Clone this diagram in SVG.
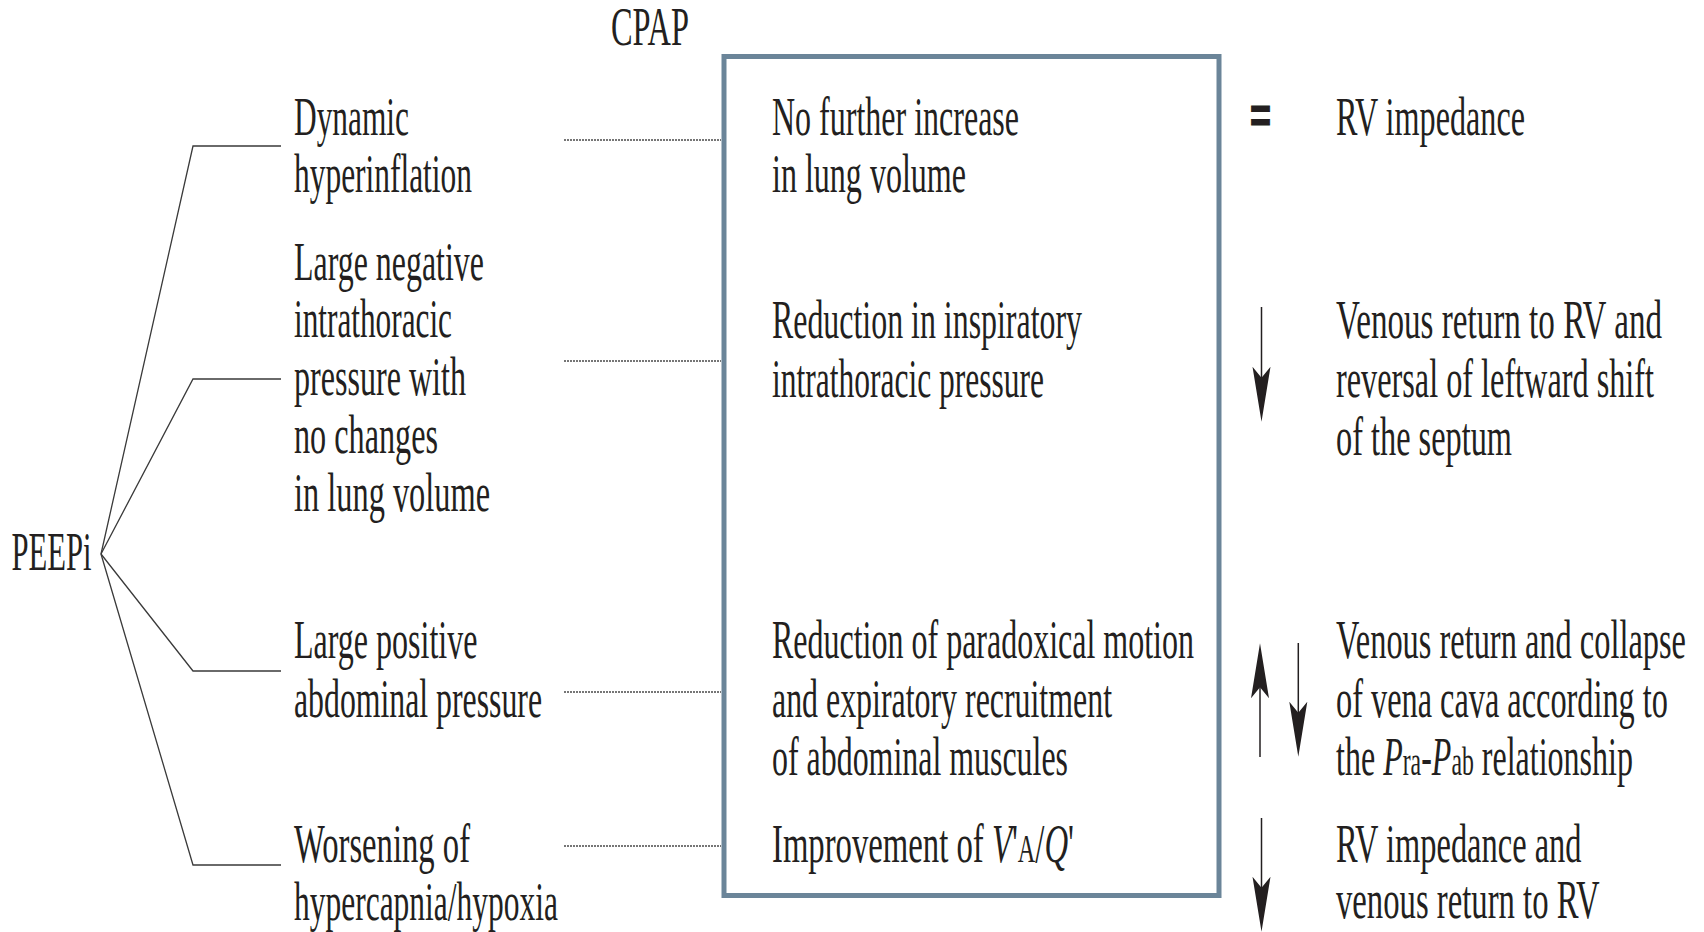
<svg xmlns="http://www.w3.org/2000/svg" width="1704" height="932" viewBox="0 0 1704 932">
<style>
  .t { font-family: "Liberation Serif", "Times New Roman", serif; font-size: 54px; fill: #231f20; }
  .it { font-style: italic; }
  .sm { font-size: 40px; }
  .eq { font-family: "Liberation Sans", Arial, sans-serif; font-size: 50px; font-weight: bold; fill: #231f20; stroke: #231f20; stroke-width: 1.2px; }
  .tree { fill: none; stroke: #3a3a3a; stroke-width: 1.3; }
  .dash { fill: none; stroke: #4a4a4a; stroke-width: 1.4; stroke-dasharray: 2 1; }
  .box { fill: none; stroke: #6b8599; stroke-width: 5; }
  .arr { fill: none; stroke: #231f20; stroke-width: 1.5; }
</style>
<defs>
  <marker id="head" markerUnits="userSpaceOnUse" viewBox="-76 -10 80 20" markerWidth="80" markerHeight="20" refX="-20" refY="0" orient="auto">
    <path d="M0,0 L-55,-9 L-44,0 L-55,9 Z" fill="#231f20"/>
  </marker>
</defs>
<rect width="1704" height="932" fill="#ffffff"/>

<g id="connectors">
  <polyline class="tree" points="101,554 193,146 281,146"/>
  <polyline class="tree" points="101,554 193,379 281,379"/>
  <polyline class="tree" points="101,554 193,671 281,671"/>
  <polyline class="tree" points="101,554 193,865 281,865"/>
  <line class="dash" x1="564" y1="140" x2="721" y2="140"/>
  <line class="dash" x1="564" y1="361" x2="721" y2="361"/>
  <line class="dash" x1="564" y1="692" x2="721" y2="692"/>
  <line class="dash" x1="564" y1="846" x2="721" y2="846"/>
</g>

<g id="cpap-label">
  <text class="t" x="611" y="45" textLength="78" lengthAdjust="spacingAndGlyphs">CPAP</text>
</g>

<g id="peepi">
  <text class="t" x="11.5" y="570" textLength="80" lengthAdjust="spacingAndGlyphs">PEEPi</text>
</g>

<g id="cause-1">
  <text class="t" x="294" y="135" textLength="115" lengthAdjust="spacingAndGlyphs">Dynamic</text>
  <text class="t" x="294" y="192" textLength="178" lengthAdjust="spacingAndGlyphs">hyperinflation</text>
</g>
<g id="cause-2">
  <text class="t" x="294" y="280" textLength="190" lengthAdjust="spacingAndGlyphs">Large negative</text>
  <text class="t" x="294" y="337" textLength="158" lengthAdjust="spacingAndGlyphs">intrathoracic</text>
  <text class="t" x="294" y="395" textLength="172" lengthAdjust="spacingAndGlyphs">pressure with</text>
  <text class="t" x="294" y="453" textLength="144" lengthAdjust="spacingAndGlyphs">no changes</text>
  <text class="t" x="294" y="511" textLength="196" lengthAdjust="spacingAndGlyphs">in lung volume</text>
</g>
<g id="cause-3">
  <text class="t" x="294" y="658" textLength="183.5" lengthAdjust="spacingAndGlyphs">Large positive</text>
  <text class="t" x="294" y="717" textLength="248" lengthAdjust="spacingAndGlyphs">abdominal pressure</text>
</g>
<g id="cause-4">
  <text class="t" x="294" y="862" textLength="176" lengthAdjust="spacingAndGlyphs">Worsening of</text>
  <text class="t" x="294" y="920" textLength="264" lengthAdjust="spacingAndGlyphs">hypercapnia/hypoxia</text>
</g>

<g id="cpap-box">
  <rect class="box" x="724" y="56.5" width="495" height="839"/>
</g>

<g id="effect-1">
  <text class="t" x="772" y="135" textLength="247" lengthAdjust="spacingAndGlyphs">No further increase</text>
  <text class="t" x="772" y="192" textLength="194" lengthAdjust="spacingAndGlyphs">in lung volume</text>
</g>
<g id="effect-2">
  <text class="t" x="772" y="338" textLength="310" lengthAdjust="spacingAndGlyphs">Reduction in inspiratory</text>
  <text class="t" x="772" y="397" textLength="272" lengthAdjust="spacingAndGlyphs">intrathoracic pressure</text>
</g>
<g id="effect-3">
  <text class="t" x="772" y="658" textLength="422" lengthAdjust="spacingAndGlyphs">Reduction of paradoxical motion</text>
  <text class="t" x="772" y="717" textLength="340" lengthAdjust="spacingAndGlyphs">and expiratory recruitment</text>
  <text class="t" x="772" y="775" textLength="296" lengthAdjust="spacingAndGlyphs">of abdominal muscules</text>
</g>
<g id="effect-4">
  <text class="t" x="772" y="862" textLength="302" lengthAdjust="spacingAndGlyphs">Improvement of <tspan class="it">V</tspan>'<tspan class="sm">A</tspan>/<tspan class="it">Q</tspan>'</text>
</g>

<g id="indicator-1">
  <text class="eq" x="1250" y="133" textLength="21" lengthAdjust="spacingAndGlyphs">=</text>
</g>
<g id="indicator-2">
  <line class="arr" x1="1261.5" y1="307" x2="1261.5" y2="401.7" marker-end="url(#head)"/>
</g>
<g id="indicator-3">
  <line class="arr" x1="1260" y1="757" x2="1260" y2="663.3" marker-end="url(#head)"/>
  <line class="arr" x1="1298.3" y1="643" x2="1298.3" y2="736.7" marker-end="url(#head)"/>
</g>
<g id="indicator-4">
  <line class="arr" x1="1261.5" y1="818" x2="1261.5" y2="911.7" marker-end="url(#head)"/>
</g>

<g id="outcome-1">
  <text class="t" x="1336" y="135" textLength="189" lengthAdjust="spacingAndGlyphs">RV impedance</text>
</g>
<g id="outcome-2">
  <text class="t" x="1336" y="338" textLength="326" lengthAdjust="spacingAndGlyphs">Venous return to RV and</text>
  <text class="t" x="1336" y="397" textLength="318" lengthAdjust="spacingAndGlyphs">reversal of leftward shift</text>
  <text class="t" x="1336" y="455" textLength="176" lengthAdjust="spacingAndGlyphs">of the septum</text>
</g>
<g id="outcome-3">
  <text class="t" x="1336" y="658" textLength="350" lengthAdjust="spacingAndGlyphs">Venous return and collapse</text>
  <text class="t" x="1336" y="717" textLength="332" lengthAdjust="spacingAndGlyphs">of vena cava according to</text>
  <text class="t" x="1336" y="775" textLength="297" lengthAdjust="spacingAndGlyphs">the <tspan class="it">P</tspan><tspan class="sm">ra</tspan>-<tspan class="it">P</tspan><tspan class="sm">ab</tspan> relationship</text>
</g>
<g id="outcome-4">
  <text class="t" x="1336" y="862" textLength="245.5" lengthAdjust="spacingAndGlyphs">RV impedance and</text>
  <text class="t" x="1336" y="918" textLength="263.5" lengthAdjust="spacingAndGlyphs">venous return to RV</text>
</g>
</svg>
